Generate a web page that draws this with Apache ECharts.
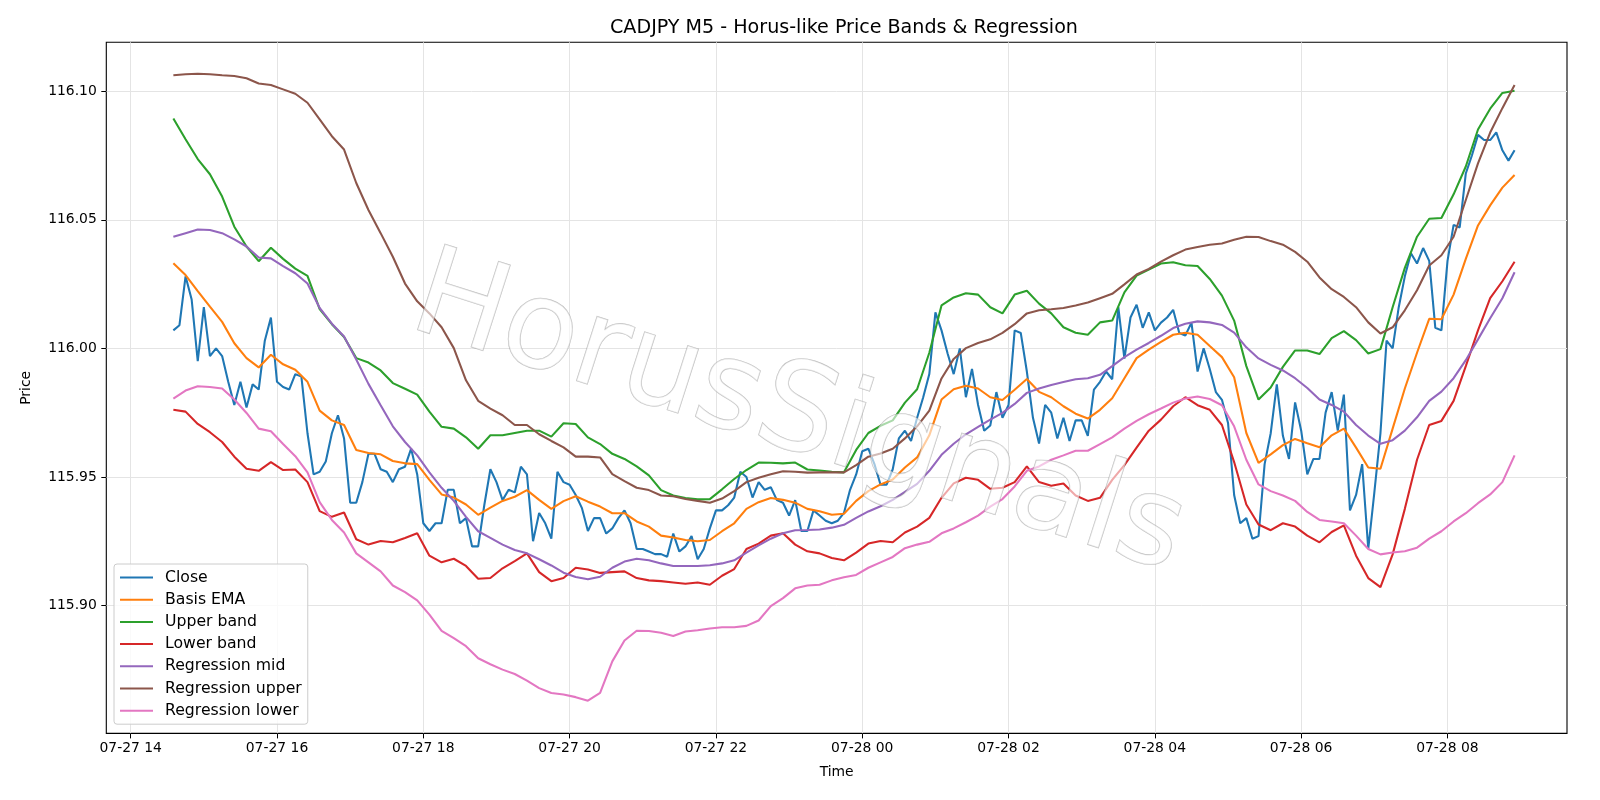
<!DOCTYPE html>
<html>
<head>
<meta charset="utf-8">
<title>CADJPY M5 - Horus-like Price Bands & Regression</title>
<script src="https://cdn.jsdelivr.net/npm/echarts@6.0.0/dist/echarts.min.js"></script>
<style>
  html, body { margin: 0; padding: 0; background: #fff; }
  #chart { width: 1600px; height: 800px; }
</style>
</head>
<body>
<div id="chart"></div>
<script>
// x values are minutes after 07-27 14:00; bars are 5 min, first one at 14:35
const startMin = 35;
const dayLabels = ["07-27", "07-28"];

const closeVals = [
  116.007, 116.009, 116.028, 116.019, 115.995, 116.016, 115.997, 116.000, 115.997, 115.987,
  115.978, 115.987, 115.977, 115.986, 115.984, 116.003, 116.012, 115.987, 115.985, 115.984,
  115.990, 115.989, 115.967, 115.951, 115.952, 115.956, 115.967, 115.974, 115.965, 115.940,
  115.940, 115.948, 115.959, 115.959, 115.953, 115.952, 115.948, 115.953, 115.954, 115.961,
  115.951, 115.932, 115.929, 115.932, 115.932, 115.945, 115.945, 115.932, 115.934, 115.923,
  115.923, 115.939, 115.953, 115.948, 115.941, 115.945, 115.944, 115.954, 115.951, 115.925,
  115.936, 115.932, 115.926, 115.952, 115.948, 115.947, 115.943, 115.938, 115.929, 115.934,
  115.934, 115.928, 115.930, 115.934, 115.937, 115.932, 115.922, 115.922, 115.921, 115.920,
  115.920, 115.919, 115.928, 115.921, 115.923, 115.927, 115.918, 115.922, 115.930, 115.937,
  115.937, 115.939, 115.942, 115.952, 115.950, 115.942, 115.948, 115.945, 115.946, 115.941,
  115.940, 115.935, 115.941, 115.929, 115.929, 115.937, 115.935, 115.933, 115.932, 115.933,
  115.936, 115.945, 115.951, 115.960, 115.961, 115.955, 115.947, 115.947, 115.953, 115.965,
  115.968, 115.964, 115.973, 115.981, 115.990, 116.014, 116.007, 115.998, 115.990, 116.000,
  115.981, 115.992, 115.978, 115.968, 115.970, 115.983, 115.973, 115.978, 116.007, 116.006,
  115.991, 115.973, 115.963, 115.978, 115.975, 115.965, 115.973, 115.964, 115.972, 115.972,
  115.966, 115.984, 115.987, 115.991, 115.988, 116.016, 115.996, 116.012, 116.017, 116.008,
  116.014, 116.007, 116.010, 116.012, 116.015, 116.006, 116.005, 116.010, 115.991, 116.000,
  115.992, 115.983, 115.980, 115.971, 115.943, 115.932, 115.934, 115.926, 115.927, 115.955,
  115.967, 115.986, 115.966, 115.957, 115.979, 115.968, 115.951, 115.957, 115.957, 115.975,
  115.983, 115.968, 115.982, 115.937, 115.943, 115.955, 115.922, 115.944, 115.967, 116.003,
  116.000, 116.016, 116.028, 116.037, 116.033, 116.039, 116.034, 116.008, 116.007, 116.034,
  116.048, 116.047, 116.068, 116.075, 116.083, 116.081, 116.081, 116.084, 116.077, 116.073,
  116.077
];

// smoother lines (10 min apart)
const basisEma = [
  116.0331, 116.0285, 116.0223, 116.0162, 116.0103, 116.0020, 115.9962, 115.9926, 115.9975, 115.9938,
  115.9917, 115.9870, 115.9758, 115.9720, 115.9702, 115.9605, 115.9593, 115.9588, 115.9562, 115.9553,
  115.9550, 115.9489, 115.9432, 115.9420, 115.9393, 115.9353, 115.9381, 115.9407, 115.9423, 115.9449,
  115.9411, 115.9376, 115.9406, 115.9425, 115.9404, 115.9385, 115.9359, 115.9359, 115.9327, 115.9307,
  115.9272, 115.9265, 115.9255, 115.9250, 115.9255, 115.9289, 115.9320, 115.9376, 115.9402, 115.9418,
  115.9411, 115.9400, 115.9376, 115.9367, 115.9353, 115.9357, 115.9407, 115.9445, 115.9471, 115.9490,
  115.9537, 115.9576, 115.9662, 115.9801, 115.9841, 115.9855, 115.9844, 115.9810, 115.9799, 115.9839,
  115.9881, 115.9831, 115.9810, 115.9775, 115.9746, 115.9727, 115.9761, 115.9806, 115.9884, 115.9962,
  115.9995, 116.0025, 116.0053, 116.0061, 116.0053, 116.0009, 115.9966, 115.9888, 115.9671, 115.9555,
  115.9588, 115.9624, 115.9648, 115.9631, 115.9616, 115.9662, 115.9688, 115.9614, 115.9537, 115.9532,
  115.9688, 115.9844, 115.9983, 116.0115, 116.0113, 116.0209, 116.0348, 116.0478, 116.0556, 116.0625,
  116.0674
];
const upperBand = [
  116.0894, 116.0813, 116.0736, 116.0677, 116.0590, 116.0473, 116.0396, 116.0339, 116.0391, 116.0348,
  116.0310, 116.0282, 116.0153, 116.0094, 116.0044, 115.9962, 115.9945, 115.9914, 115.9865, 115.9843,
  115.9820, 115.9754, 115.9695, 115.9688, 115.9654, 115.9610, 115.9662, 115.9662, 115.9671, 115.9680,
  115.9680, 115.9657, 115.9709, 115.9706, 115.9654, 115.9628, 115.9590, 115.9570, 115.9541, 115.9506,
  115.9449, 115.9428, 115.9418, 115.9413, 115.9414, 115.9452, 115.9492, 115.9527, 115.9556, 115.9555,
  115.9553, 115.9556, 115.9529, 115.9525, 115.9520, 115.9518, 115.9605, 115.9671, 115.9699, 115.9720,
  115.9789, 115.9841, 115.9983, 116.0167, 116.0198, 116.0214, 116.0209, 116.0160, 116.0136, 116.0209,
  116.0224, 116.0174, 116.0136, 116.0082, 116.0061, 116.0053, 116.0101, 116.0108, 116.0218, 116.0283,
  116.0306, 116.0330, 116.0335, 116.0323, 116.0320, 116.0270, 116.0205, 116.0108, 115.9931, 115.9801,
  115.9848, 115.9928, 115.9992, 115.9992, 115.9978, 116.0040, 116.0067, 116.0032, 115.9980, 115.9997,
  116.0160, 116.0313, 116.0434, 116.0504, 116.0507, 116.0599, 116.0707, 116.0851, 116.0932, 116.0993,
  116.1002
];
const lowerBand = [
  115.9761, 115.9754, 115.9706, 115.9674, 115.9636, 115.9579, 115.9532, 115.9524, 115.9558, 115.9527,
  115.9529, 115.9480, 115.9367, 115.9345, 115.9362, 115.9258, 115.9237, 115.9251, 115.9246, 115.9263,
  115.9281, 115.9194, 115.9168, 115.9182, 115.9154, 115.9104, 115.9107, 115.9145, 115.9173, 115.9203,
  115.9130, 115.9095, 115.9107, 115.9147, 115.9140, 115.9127, 115.9130, 115.9133, 115.9107, 115.9098,
  115.9095, 115.9090, 115.9085, 115.9090, 115.9081, 115.9116, 115.9142, 115.9220, 115.9241, 115.9272,
  115.9281, 115.9237, 115.9211, 115.9203, 115.9185, 115.9176, 115.9206, 115.9241, 115.9251, 115.9246,
  115.9284, 115.9307, 115.9341, 115.9419, 115.9475, 115.9497, 115.9489, 115.9454, 115.9458, 115.9480,
  115.9541, 115.9480, 115.9466, 115.9475, 115.9428, 115.9407, 115.9419, 115.9489, 115.9546, 115.9614,
  115.9680, 115.9723, 115.9775, 115.9810, 115.9779, 115.9761, 115.9702, 115.9558, 115.9393, 115.9315,
  115.9293, 115.9320, 115.9307, 115.9272, 115.9246, 115.9286, 115.9312, 115.9194, 115.9107, 115.9072,
  115.9199, 115.9376, 115.9567, 115.9702, 115.9718, 115.9796, 115.9931, 116.0070, 116.0195, 116.0261,
  116.0337
];
const regMid = [
  116.0434, 116.0448, 116.0462, 116.0460, 116.0448, 116.0424, 116.0396, 116.0353, 116.0350, 116.0320,
  116.0292, 116.0252, 116.0157, 116.0096, 116.0046, 115.9957, 115.9862, 115.9779, 115.9697, 115.9636,
  115.9584, 115.9518, 115.9458, 115.9407, 115.9345, 115.9289, 115.9263, 115.9237, 115.9216, 115.9203,
  115.9180, 115.9156, 115.9128, 115.9111, 115.9102, 115.9112, 115.9147, 115.9171, 115.9182, 115.9176,
  115.9164, 115.9154, 115.9154, 115.9154, 115.9157, 115.9164, 115.9176, 115.9206, 115.9234, 115.9260,
  115.9281, 115.9293, 115.9294, 115.9296, 115.9303, 115.9314, 115.9341, 115.9366, 115.9386, 115.9411,
  115.9442, 115.9473, 115.9524, 115.9586, 115.9629, 115.9666, 115.9695, 115.9723, 115.9749, 115.9784,
  115.9827, 115.9844, 115.9858, 115.9869, 115.9880, 115.9884, 115.9897, 115.9931, 115.9966, 115.9995,
  116.0021, 116.0049, 116.0079, 116.0096, 116.0105, 116.0101, 116.0091, 116.0061, 116.0004, 115.9961,
  115.9936, 115.9914, 115.9884, 115.9846, 115.9801, 115.9780, 115.9754, 115.9702, 115.9661, 115.9629,
  115.9643, 115.9680, 115.9732, 115.9796, 115.9832, 115.9884, 115.9954, 116.0035, 116.0117, 116.0195,
  116.0296
];
const regUpper = [
  116.1062, 116.1066, 116.1068, 116.1066, 116.1062, 116.1059, 116.1050, 116.1030, 116.1024, 116.1007,
  116.0990, 116.0955, 116.0890, 116.0825, 116.0773, 116.0643, 116.0538, 116.0448, 116.0356, 116.0252,
  116.0183, 116.0136, 116.0082, 116.0001, 115.9876, 115.9796, 115.9766, 115.9740, 115.9702, 115.9702,
  115.9666, 115.9640, 115.9615, 115.9579, 115.9579, 115.9576, 115.9511, 115.9484, 115.9458, 115.9449,
  115.9428, 115.9425, 115.9414, 115.9407, 115.9400, 115.9416, 115.9445, 115.9480, 115.9497, 115.9511,
  115.9522, 115.9520, 115.9517, 115.9518, 115.9518, 115.9518, 115.9546, 115.9579, 115.9591, 115.9610,
  115.9650, 115.9697, 115.9758, 115.9883, 115.9959, 116.0001, 116.0021, 116.0035, 116.0060, 116.0094,
  116.0136, 116.0148, 116.0152, 116.0157, 116.0167, 116.0178, 116.0195, 116.0212, 116.0249, 116.0287,
  116.0309, 116.0337, 116.0362, 116.0384, 116.0394, 116.0403, 116.0408, 116.0422, 116.0434, 116.0433,
  116.0417, 116.0403, 116.0375, 116.0337, 116.0276, 116.0230, 116.0200, 116.0160, 116.0101, 116.0058,
  116.0082, 116.0148, 116.0226, 116.0322, 116.0362, 116.0434, 116.0577, 116.0719, 116.0839, 116.0934,
  116.1024
];
const regLower = [
  115.9805, 115.9836, 115.9853, 115.9850, 115.9844, 115.9801, 115.9749, 115.9688, 115.9678, 115.9628,
  115.9581, 115.9518, 115.9402, 115.9333, 115.9284, 115.9203, 115.9168, 115.9133, 115.9078, 115.9052,
  115.9020, 115.8965, 115.8902, 115.8873, 115.8842, 115.8795, 115.8772, 115.8751, 115.8734, 115.8708,
  115.8679, 115.8660, 115.8654, 115.8644, 115.8630, 115.8661, 115.8783, 115.8864, 115.8902, 115.8901,
  115.8894, 115.8882, 115.8899, 115.8904, 115.8911, 115.8916, 115.8916, 115.8921, 115.8942, 115.8998,
  115.9029, 115.9067, 115.9078, 115.9081, 115.9098, 115.9110, 115.9119, 115.9147, 115.9168, 115.9189,
  115.9223, 115.9237, 115.9248, 115.9281, 115.9300, 115.9324, 115.9350, 115.9385, 115.9414, 115.9463,
  115.9524, 115.9541, 115.9567, 115.9584, 115.9602, 115.9602, 115.9628, 115.9654, 115.9688, 115.9718,
  115.9744, 115.9766, 115.9789, 115.9805, 115.9813, 115.9803, 115.9779, 115.9697, 115.9567, 115.9471,
  115.9445, 115.9428, 115.9407, 115.9364, 115.9333, 115.9327, 115.9320, 115.9272, 115.9220, 115.9199,
  115.9206, 115.9211, 115.9225, 115.9260, 115.9289, 115.9327, 115.9359, 115.9398, 115.9432, 115.9480,
  115.9584
];

const FONT = '"DejaVu Sans", sans-serif';

function xLabel(m) {
  const h = 14 + m / 60;
  const d = Math.floor(h / 24);
  const hh = String(Math.round(h % 24)).padStart(2, "0");
  return dayLabels[d] + " " + hh;
}

const every5 = arr => arr.map((v, i) => [startMin + 5 * i, v]);
const every10 = arr => arr.map((v, k) => [startMin + 10 * k, v]);

function line(name, color, data) {
  return {
    name: name,
    type: "line",
    xAxisIndex: 0,
    yAxisIndex: 0,
    data: data,
    showSymbol: false,
    symbol: "none",
    lineStyle: { color: color, width: 2.08 },
    itemStyle: { color: color },
    emphasis: { disabled: true }
  };
}

const tickStyle = { show: true, inside: false, length: 5, lineStyle: { color: "#000", width: 1 } };
const gridLine = { show: true, lineStyle: { color: "#e4e4e4", width: 1 } };
const labelStyle = { fontFamily: FONT, fontSize: 13.9, color: "#000" };

const chart = echarts.init(document.getElementById("chart"), null, { renderer: "canvas" });
chart.setOption({
  animation: false,
  backgroundColor: "#fff",
  title: {
    text: "CADJPY M5 - Horus-like Price Bands & Regression",
    left: 844,
    top: 19,
    textAlign: "center",
    padding: 0,
    textStyle: { fontFamily: FONT, fontSize: 19.1, fontWeight: "normal", color: "#000" }
  },
  legend: {
    orient: "vertical",
    left: 114,
    top: 564,
    icon: "rect",
    itemWidth: 33,
    itemHeight: 2,
    itemGap: 5.2,
    padding: [5, 6, 5, 6],
    backgroundColor: "rgba(255,255,255,0.8)",
    borderColor: "#cccccc",
    borderWidth: 1,
    borderRadius: 3,
    textStyle: { fontFamily: FONT, fontSize: 15.7, color: "#000", lineHeight: 17, padding: [0, 0, 0, 7] },
    data: ["Close", "Basis EMA", "Upper band", "Lower band", "Regression mid", "Regression upper", "Regression lower"]
  },
  grid: [
    // plot frame, holds the data
    { left: 106.3, right: 33, top: 42.3, bottom: 66.6, show: true, borderColor: "#000", borderWidth: 1.1 },
    // time ticks: 07-27 14 .. 07-28 08
    { left: 130.7, right: 152.6, top: 42.3, bottom: 66.6 },
    // price ticks: 115.90 .. 116.10
    { left: 106.3, right: 33, top: 91.2, bottom: 194.4 }
  ],
  xAxis: [
    {
      gridIndex: 0, type: "value", min: -20, max: 1178,
      axisLine: { show: false }, axisTick: { show: false }, axisLabel: { show: false }, splitLine: { show: false },
      name: "Time", nameLocation: "middle", nameGap: 32,
      nameTextStyle: labelStyle
    },
    {
      gridIndex: 1, type: "value", min: 0, max: 1080, interval: 120,
      axisLine: { show: false, onZero: false }, axisTick: tickStyle, splitLine: gridLine,
      axisLabel: Object.assign({ margin: 8, formatter: xLabel }, labelStyle)
    },
    { gridIndex: 2, type: "value", min: 0, max: 1, show: false }
  ],
  yAxis: [
    {
      gridIndex: 0, type: "value", min: 115.8503, max: 116.119,
      axisLine: { show: false }, axisTick: { show: false }, axisLabel: { show: false }, splitLine: { show: false },
      name: "Price", nameLocation: "middle", nameGap: 73,
      nameTextStyle: labelStyle
    },
    { gridIndex: 1, type: "value", min: 0, max: 1, show: false },
    {
      gridIndex: 2, type: "value", min: 115.90, max: 116.10, interval: 0.05,
      axisLine: { show: false, onZero: false }, axisTick: tickStyle, splitLine: gridLine,
      axisLabel: Object.assign({ margin: 9.5, formatter: v => v.toFixed(2) }, labelStyle)
    }
  ],
  series: [
    line("Close", "#1f77b4", every5(closeVals)),
    line("Basis EMA", "#ff7f0e", every10(basisEma)),
    line("Upper band", "#2ca02c", every10(upperBand)),
    line("Lower band", "#d62728", every10(lowerBand)),
    line("Regression mid", "#9467bd", every10(regMid)),
    line("Regression upper", "#8c564b", every10(regUpper)),
    line("Regression lower", "#e377c2", every10(regLower))
  ],
  graphic: [
    {
      type: "text",
      x: 798,
      y: 418,
      rotation: -0.31,
      z: 100,
      silent: true,
      style: {
        text: "HorusSignals",
        font: '123px "DejaVu Sans"',
        align: "center",
        verticalAlign: "middle",
        textAlign: "center",
        textVerticalAlign: "middle",
        fill: "rgba(255,255,255,0.6)",
        stroke: "rgba(140,140,140,0.55)",
        lineWidth: 1.2,
        shadowColor: "rgba(100,100,100,0.5)",
        shadowOffsetX: 4,
        shadowOffsetY: 4,
        shadowBlur: 0
      }
    }
  ]
});
</script>
</body>
</html>
